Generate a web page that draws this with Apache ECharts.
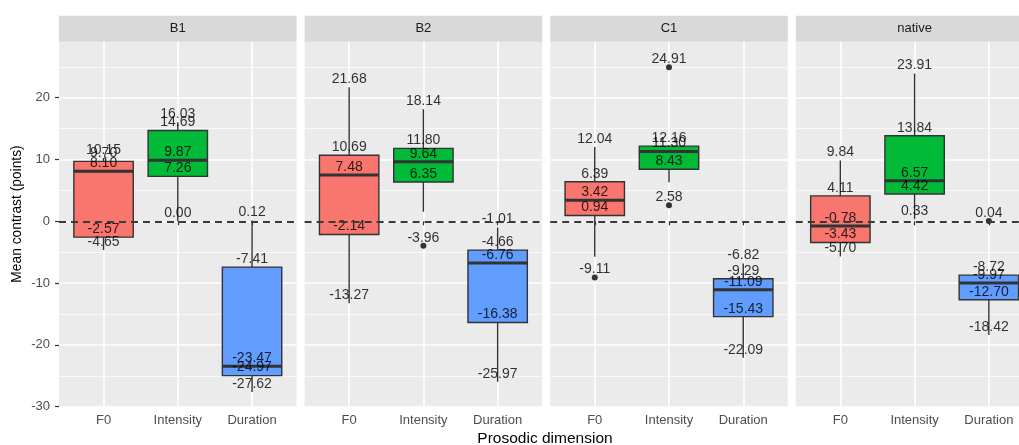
<!DOCTYPE html>
<html><head><meta charset="utf-8">
<script src="https://cdn.jsdelivr.net/npm/echarts@6/dist/echarts.min.js"></script>
<style>html,body{margin:0;padding:0;background:#fff}#c{width:1019px;height:445px}</style>
</head><body><div id="c"></div>
<script>
const panels = ['B1', 'B2', 'C1', 'native'];
const categories = ['F0', 'Intensity', 'Duration'];
const categoryPos = [1, 2, 3];
const yTicks = [-30, -20, -10, 0, 10, 20];
const yMinorTicks = [-25, -15, -5, 5, 15, 25];
// values indexed [panel][category]
const whiskerLow  = [[-4.65, 0.00, -27.62], [-13.27, 1.55, -25.97], [-5.73, 6.30, -22.09], [-5.70, 0.33, -18.42]];
const q1          = [[-2.57, 7.26, -24.97], [-2.14, 6.35, -16.38], [0.94, 8.43, -15.43], [-3.43, 4.42, -12.70]];
const median      = [[8.10, 9.87, -23.47], [7.48, 9.64, -6.76], [3.42, 11.30, -11.09], [-0.78, 6.57, -9.97]];
const q3          = [[9.70, 14.69, -7.41], [10.69, 11.80, -4.66], [6.39, 12.16, -9.29], [4.11, 13.84, -8.72]];
const whiskerHigh = [[10.15, 16.03, 0.12], [21.68, 18.14, -1.01], [12.04, 12.16, -6.82], [9.84, 23.91, -8.72]];
// outliers per panel: [categoryIndex, value]
const outliers = [[], [[1, -3.96]], [[0, -9.11], [1, 2.58], [1, 24.91]], [[2, 0.04]]];

const boxColors = ['#F8766D', '#00BA38', '#619CFF'];
const FONT = '"Liberation Sans", Arial, Helvetica, sans-serif';
const PANEL_L0 = 59, PANEL_STEP = 245.6, PANEL_W = 237.6, PANEL_TOP = 41.7, PANEL_H = 365.6;
const Y_MIN = -30.1, Y_MAX = 29.06;

function renderBox(params, api) {
  const x = api.value(0);
  const c = Math.round(x) - 1;
  const halfW = api.size([0.8, 0])[0] / 2;
  const pLow = api.coord([x, api.value(1)]);
  const pQ1 = api.coord([x, api.value(2)]);
  const pMed = api.coord([x, api.value(3)]);
  const pQ3 = api.coord([x, api.value(4)]);
  const pHigh = api.coord([x, api.value(5)]);
  const stroke = '#333333';
  return { type: 'group', children: [
    { type: 'line', shape: { x1: pLow[0], y1: pLow[1], x2: pQ1[0], y2: pQ1[1] }, style: { stroke, lineWidth: 1.4 } },
    { type: 'line', shape: { x1: pQ3[0], y1: pQ3[1], x2: pHigh[0], y2: pHigh[1] }, style: { stroke, lineWidth: 1.4 } },
    { type: 'rect', shape: { x: pQ1[0] - halfW, y: pQ3[1], width: 2 * halfW, height: pQ1[1] - pQ3[1] }, style: { fill: boxColors[c], stroke, lineWidth: 1.4 } },
    { type: 'line', shape: { x1: pMed[0] - halfW, y1: pMed[1], x2: pMed[0] + halfW, y2: pMed[1] }, style: { stroke, lineWidth: 3 } }
  ] };
}

const grids = [], xAxes = [], yAxes = [], series = [], graphics = [];
panels.forEach((name, p) => {
  const left = PANEL_L0 + p * PANEL_STEP;
  grids.push({ left, top: PANEL_TOP, width: PANEL_W, height: PANEL_H, show: true, backgroundColor: '#EBEBEB', borderWidth: 0, containLabel: false, outerBoundsMode: 'none' });
  xAxes.push({
    gridIndex: p, type: 'value', min: 0.4, max: 3.6,
    axisLine: { show: false },
    axisTick: { show: true, customValues: categoryPos, length: 4, lineStyle: { color: '#333', width: 1.2 } },
    axisLabel: { customValues: categoryPos, formatter: v => categories[Math.round(v) - 1], color: '#4D4D4D', fontSize: 13, fontFamily: FONT, margin: 7 },
    splitLine: { show: true, lineStyle: { color: '#ffffff', width: 1.6 } }
  });
  yAxes.push({
    gridIndex: p, type: 'value', min: Y_MIN, max: Y_MAX,
    axisLine: { show: false },
    axisTick: { show: p === 0, customValues: yTicks, length: 4, lineStyle: { color: '#333', width: 1.2 } },
    axisLabel: { show: p === 0, customValues: yTicks, color: '#4D4D4D', fontSize: 13, fontFamily: FONT, margin: 9 },
    splitLine: { show: true, lineStyle: { color: '#ffffff', width: 1.6 } }
  });
  yAxes.push({
    gridIndex: p, type: 'value', min: Y_MIN, max: Y_MAX, position: 'right',
    axisLine: { show: false },
    axisTick: { show: false, customValues: yMinorTicks },
    axisLabel: { show: false, customValues: yMinorTicks },
    splitLine: { show: true, lineStyle: { color: '#ffffff', width: 0.7 } }
  });
  const yIdx = p * 2;
  // zero reference line
  series.push({
    type: 'scatter', xAxisIndex: p, yAxisIndex: yIdx, data: [], z: 1, silent: true,
    markLine: { symbol: 'none', silent: true, animation: false, label: { show: false },
      lineStyle: { type: [7, 5], color: '#3A3A3A', width: 1.8 }, data: [{ yAxis: 0 }] }
  });
  const boxData = categories.map((c, i) => [categoryPos[i], whiskerLow[p][i], q1[p][i], median[p][i], q3[p][i], whiskerHigh[p][i]]);
  series.push({
    type: 'custom', xAxisIndex: p, yAxisIndex: yIdx, z: 2, silent: true,
    renderItem: renderBox, data: boxData,
    encode: { x: 0, y: [1, 2, 3, 4, 5] }
  });
  series.push({
    type: 'scatter', xAxisIndex: p, yAxisIndex: yIdx, z: 3, silent: true,
    symbolSize: 6, itemStyle: { color: '#333333', opacity: 1 },
    data: outliers[p].map(o => [categoryPos[o[0]], o[1]])
  });
  const labelData = [];
  categories.forEach((c, i) => {
    const outs = outliers[p].filter(o => o[0] === i).map(o => o[1]);
    const lo = Math.min(whiskerLow[p][i], ...outs);
    const hi = Math.max(whiskerHigh[p][i], ...outs);
    [lo, q1[p][i], median[p][i], q3[p][i], hi].forEach(v => labelData.push([categoryPos[i], v]));
  });
  series.push({
    type: 'scatter', xAxisIndex: p, yAxisIndex: yIdx, z: 4, silent: true,
    symbolSize: 1, itemStyle: { color: 'rgba(0,0,0,0)' },
    label: { show: true, position: 'inside', offset: [0, -8], formatter: d => d.value[1].toFixed(2),
      color: '#000000', fontSize: 14, fontFamily: FONT },
    data: labelData
  });
  graphics.push({ type: 'rect', silent: true, shape: { x: left, y: 15.7, width: PANEL_W, height: 26 }, style: { fill: '#D9D9D9' } });
  graphics.push({ type: 'text', silent: true, x: left + PANEL_W / 2, y: 28.7,
    style: { text: name, fill: '#1A1A1A', font: '13px ' + FONT, textAlign: 'center', textVerticalAlign: 'middle', align: 'center', verticalAlign: 'middle' } });
});
graphics.push({ type: 'text', silent: true, x: 17, y: 214, rotation: Math.PI / 2,
  style: { text: 'Mean contrast (points)', fill: '#000000', font: '13.8px ' + FONT, textAlign: 'center', textVerticalAlign: 'middle', align: 'center', verticalAlign: 'middle' } });
graphics.push({ type: 'text', silent: true, x: 545, y: 439,
  style: { text: 'Prosodic dimension', fill: '#000000', font: '15.5px ' + FONT, textAlign: 'center', textVerticalAlign: 'middle', align: 'center', verticalAlign: 'middle' } });

const chart = echarts.init(document.getElementById('c'), null, { renderer: 'canvas' });
chart.setOption({
  animation: false,
  backgroundColor: '#ffffff',
  grid: grids, xAxis: xAxes, yAxis: yAxes, series, graphic: graphics
});
</script></body></html>
